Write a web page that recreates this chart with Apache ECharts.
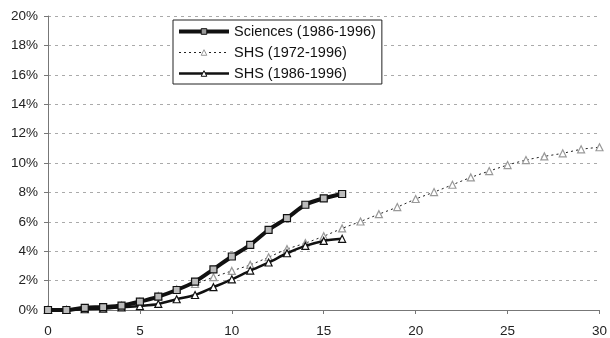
<!DOCTYPE html>
<html><head><meta charset="utf-8">
<script src="https://cdn.jsdelivr.net/npm/echarts@6/dist/echarts.min.js"></script>
<style>html,body{margin:0;padding:0;background:#fff}#c{width:610px;height:338px}</style>
</head><body><div id="c"></div>
<script>
const xSciences = [0,1,2,3,4,5,6,7,8,9,10,11,12,13,14,15,16];
const sciences = [0,0,0.15,0.2,0.3,0.57,0.91,1.36,1.93,2.77,3.64,4.43,5.45,6.25,7.16,7.6,7.89];
const xShs86 = [0,1,2,3,4,5,6,7,8,9,10,11,12,13,14,15,16];
const shs86 = [0,0,0.05,0.1,0.18,0.27,0.41,0.73,1.02,1.55,2.09,2.68,3.23,3.86,4.36,4.7,4.84];
const xShs72 = [0,1,2,3,4,5,6,7,8,9,10,11,12,13,14,15,16,17,18,19,20,21,22,23,24,25,26,27,28,29,30];
const shs72 = [0,0,0.1,0.15,0.3,0.55,0.95,1.41,1.77,2.23,2.66,3.07,3.59,4.14,4.55,5.02,5.55,6.02,6.52,7.0,7.55,8.02,8.52,9.02,9.45,9.86,10.2,10.45,10.66,10.93,11.07];
const names = ['Sciences (1986-1996)','SHS (1972-1996)','SHS (1986-1996)'];
const xTicks = [0,5,10,15,20,25,30];
const yTicks = [0,2,4,6,8,10,12,14,16,18,20];

const pairs = (xs, ys) => xs.map((x,i)=>[x, ys[i]]);
const font = 'Liberation Sans, Arial, sans-serif';
const chart = echarts.init(document.getElementById('c'));
chart.setOption({
  animation:false,
  backgroundColor:'#fff',
  grid:{left:48,right:8,top:16,bottom:28,containLabel:false},
  legend:{
    left:173, top:20, orient:'vertical',
    data:[
      {name:names[0],lineStyle:{width:4,color:'#111'},itemStyle:{color:'#999',borderColor:'#111',borderWidth:1}},
      {name:names[1],lineStyle:{width:1,color:'#222',type:[2,3]},itemStyle:{color:'#fff',borderColor:'#999',borderWidth:1}},
      {name:names[2],lineStyle:{width:2.5,color:'#111'},itemStyle:{color:'#fff',borderColor:'#111',borderWidth:1}}
    ],
    itemWidth:50, itemHeight:7, itemGap:6,
    padding:[4,6,3,4],
    borderColor:'#222', borderWidth:1, backgroundColor:'#fff',
    textStyle:{fontFamily:font,fontSize:14.5,color:'#111'}
  },
  xAxis:{
    type:'value', min:xTicks[0], max:xTicks[xTicks.length-1], interval:5,
    axisLine:{lineStyle:{color:'#777',width:1}},
    axisTick:{show:true,length:4,lineStyle:{color:'#777'}},
    axisLabel:{fontFamily:font,fontSize:13.5,color:'#222',margin:14},
    splitLine:{show:false}
  },
  yAxis:{
    type:'value', min:yTicks[0], max:yTicks[yTicks.length-1], interval:2,
    axisLine:{show:true,lineStyle:{color:'#777',width:1}},
    axisTick:{show:true,length:4,lineStyle:{color:'#777'}},
    axisLabel:{fontFamily:font,fontSize:13.5,color:'#222',margin:10,formatter:v=>v+'%'},
    splitLine:{show:true,lineStyle:{color:'#aaa',type:[3,4],width:1}}
  },
  series:[
    {name:names[1],type:'line',data:pairs(xShs72,shs72),smooth:0.3,z:2,
     symbol:'triangle',symbolSize:7,showAllSymbol:true,
     lineStyle:{color:'#222',width:1,type:[2,3]},
     itemStyle:{color:'#fff',borderColor:'#999',borderWidth:1.2}},
    {name:names[2],type:'line',data:pairs(xShs86,shs86),smooth:0.3,z:3,
     symbol:'triangle',symbolSize:7,showAllSymbol:true,
     lineStyle:{color:'#111',width:2.5},
     itemStyle:{color:'#fff',borderColor:'#111',borderWidth:1.2}},
    {name:names[0],type:'line',data:pairs(xSciences,sciences),smooth:0.3,z:4,
     symbol:'rect',symbolSize:7,showAllSymbol:true,
     lineStyle:{color:'#111',width:4},
     itemStyle:{color:'#bbb',borderColor:'#111',borderWidth:1.2}}
  ]
});
</script></body></html>
